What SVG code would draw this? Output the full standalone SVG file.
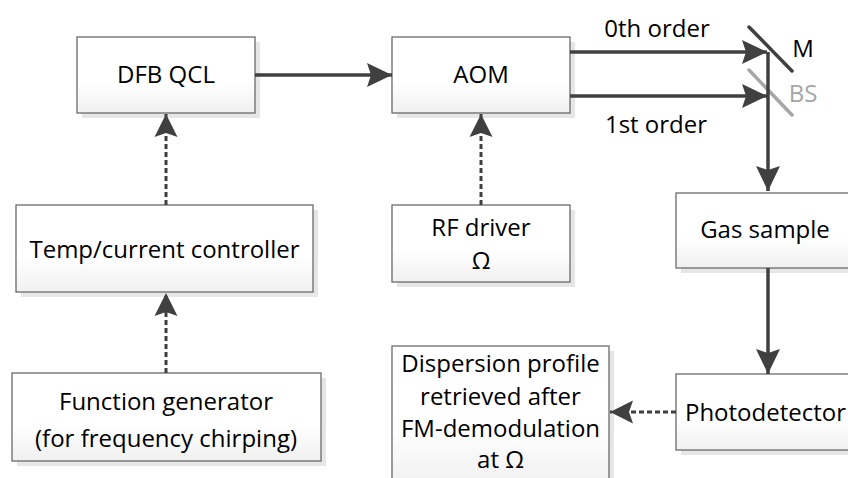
<svg xmlns="http://www.w3.org/2000/svg" width="848" height="478" viewBox="0 0 848 478">
<defs>
<linearGradient id="fill" x1="0" y1="0" x2="0" y2="1">
<stop offset="0" stop-color="#ffffff"/>
<stop offset="0.6" stop-color="#ffffff"/>
<stop offset="1" stop-color="#f0f0f0"/>
</linearGradient>
<marker id="ah" markerUnits="userSpaceOnUse" markerWidth="30" markerHeight="30" viewBox="-27 -14 30 28" refX="0" refY="0" orient="auto">
<path d="M0,0 L-25,-12 L-21,0 L-25,12 Z" fill="#404040"/>
</marker>
<marker id="ahd" markerUnits="userSpaceOnUse" markerWidth="30" markerHeight="30" viewBox="-27 -14 30 28" refX="0" refY="0" orient="auto">
<path d="M0,0 L-23,-11.5 L-19,0 L-23,11.5 Z" fill="#404040"/>
</marker>
</defs>
<style>
.box{fill:url(#fill);stroke:#6a6a6a;stroke-width:1.3}
.sh{fill:#e6e6e6}
.t{font-family:"Open Sans","Noto Sans","DejaVu Sans",sans-serif;font-size:24px;fill:#000;text-anchor:middle}
.solid{stroke:#404040;stroke-width:3.5;fill:none}
.dash{stroke:#404040;stroke-width:3;fill:none;stroke-dasharray:5 3}
</style>
<rect width="848" height="478" fill="#ffffff"/>

<g id="dfb">
<rect class="sh" x="82" y="42" width="178" height="76"/>
<rect class="box" x="77" y="37" width="178" height="76"/>
<text class="t" x="166" y="83">DFB QCL</text>
</g>
<g id="aom">
<rect class="sh" x="397" y="42" width="178" height="76"/>
<rect class="box" x="392" y="37" width="178" height="76"/>
<text class="t" x="481" y="83">AOM</text>
</g>
<g id="temp">
<rect class="sh" x="21" y="210" width="297" height="87"/>
<rect class="box" x="16" y="205" width="297" height="87"/>
<text class="t" x="164.5" y="258">Temp/current controller</text>
</g>
<g id="func">
<rect class="sh" x="17" y="378" width="309" height="88"/>
<rect class="box" x="12" y="373" width="309" height="88"/>
<text class="t" x="166" y="410">Function generator</text>
<text class="t" x="166" y="447">(for frequency chirping)</text>
</g>
<g id="rf">
<rect class="sh" x="397" y="210" width="178" height="77"/>
<rect class="box" x="392" y="205" width="178" height="77"/>
<text class="t" x="481" y="236">RF driver</text>
<text class="t" x="481" y="269">Ω</text>
</g>
<g id="gas">
<rect class="sh" x="681" y="198" width="180" height="75"/>
<rect class="box" x="676" y="193" width="180" height="75"/>
<text class="t" x="765" y="238">Gas sample</text>
</g>
<g id="pd">
<rect class="sh" x="681" y="379" width="180" height="76"/>
<rect class="box" x="676" y="374" width="180" height="76"/>
<text class="t" x="765.5" y="421">Photodetector</text>
</g>
<g id="disp">
<rect class="sh" x="397" y="351" width="217" height="140"/>
<rect class="box" x="392" y="346" width="217" height="140"/>
<text class="t" x="500.5" y="372">Dispersion profile</text>
<text class="t" x="500.5" y="405">retrieved after</text>
<text class="t" x="500.5" y="437">FM-demodulation</text>
<text class="t" x="500.5" y="468">at Ω</text>
</g>
<g id="mirror-m">
<line x1="749" y1="27" x2="792" y2="71" stroke="#404040" stroke-width="3.5" stroke-linecap="round"/>
<text class="t" x="803" y="57">M</text>
</g>
<g id="bs">
<line x1="749" y1="70" x2="792" y2="115" stroke="#a6a6a6" stroke-width="3.5" stroke-linecap="round"/>
<text class="t" x="803" y="102" style="fill:#a6a6a6">BS</text>
</g>

<g id="connectors">
<line class="solid" x1="255" y1="75" x2="392" y2="75" marker-end="url(#ah)"/>
<line class="solid" x1="570" y1="52" x2="767" y2="52" marker-end="url(#ah)"/>
<line class="solid" x1="570" y1="96" x2="767" y2="96" marker-end="url(#ah)"/>
<line class="solid" x1="768" y1="52" x2="768" y2="191" marker-end="url(#ah)"/>
<line class="solid" x1="768" y1="268" x2="768" y2="374" marker-end="url(#ah)"/>
<line class="dash" x1="166" y1="205" x2="166" y2="114" marker-end="url(#ahd)"/>
<line class="dash" x1="166" y1="373" x2="166" y2="293" marker-end="url(#ahd)"/>
<line class="dash" x1="481" y1="205" x2="481" y2="114" marker-end="url(#ahd)"/>
<line class="dash" x1="676" y1="412" x2="610" y2="412" marker-end="url(#ahd)"/>
<text class="t" x="657" y="37">0th order</text>
<text class="t" x="656" y="133">1st order</text>
</g>
</svg>
